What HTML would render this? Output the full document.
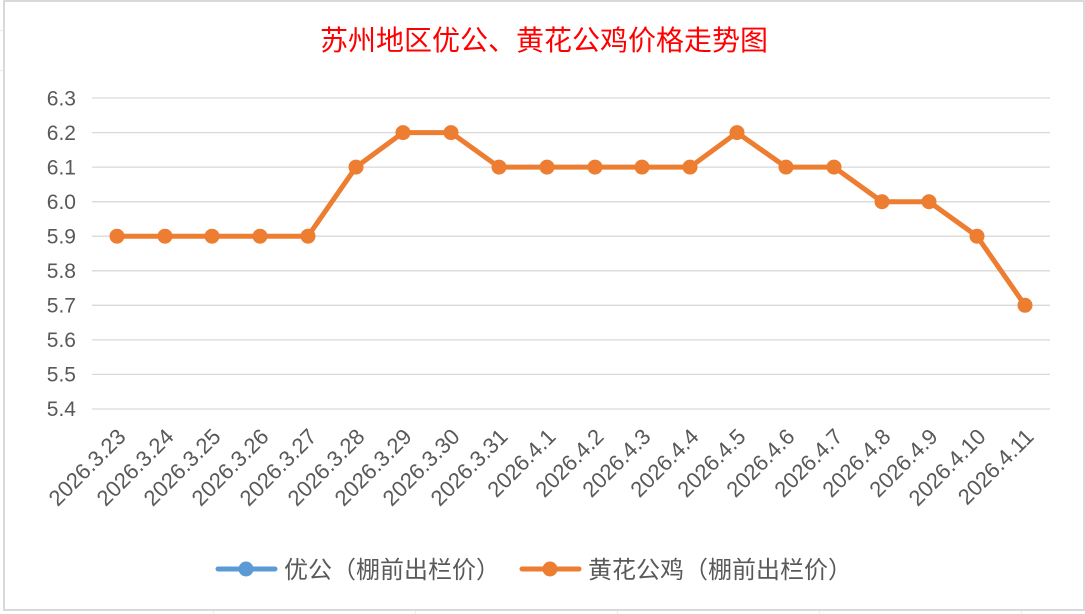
<!DOCTYPE html>
<html><head><meta charset="utf-8"><style>
html,body{margin:0;padding:0;background:#fff;}
svg{display:block;}
text{font-family:"Liberation Sans","Noto Sans CJK SC",sans-serif;}
</style></head><body>
<svg width="1085" height="614" viewBox="0 0 1085 614" xmlns="http://www.w3.org/2000/svg">
<rect x="0" y="0" width="1085" height="614" fill="#fff"/>
<g stroke="#ececec" stroke-width="1">
<line x1="0" y1="30.5" x2="4" y2="30.5"/><line x1="0" y1="70.5" x2="4" y2="70.5"/>
<line x1="213.5" y1="610" x2="213.5" y2="614"/><line x1="415.5" y1="610" x2="415.5" y2="614"/>
<line x1="617.5" y1="610" x2="617.5" y2="614"/><line x1="819.5" y1="610" x2="819.5" y2="614"/><line x1="1021.5" y1="610" x2="1021.5" y2="614"/>
</g>
<rect x="4" y="1" width="1080" height="609" fill="#fff" stroke="#d9d9d9" stroke-width="2"/>
<text x="544" y="50" text-anchor="middle" font-size="28" fill="#ff0000" font-family="'Noto Serif CJK SC','Noto Sans CJK SC',serif">苏州地区优公、黄花公鸡价格走势图</text>
<g stroke="#d9d9d9" stroke-width="1.3">
<line x1="92" y1="98" x2="1050" y2="98"/><line x1="92" y1="132.6" x2="1050" y2="132.6"/>
<line x1="92" y1="167.1" x2="1050" y2="167.1"/><line x1="92" y1="201.7" x2="1050" y2="201.7"/>
<line x1="92" y1="236.2" x2="1050" y2="236.2"/><line x1="92" y1="270.8" x2="1050" y2="270.8"/>
<line x1="92" y1="305.3" x2="1050" y2="305.3"/><line x1="92" y1="339.9" x2="1050" y2="339.9"/>
<line x1="92" y1="374.4" x2="1050" y2="374.4"/><line x1="92" y1="409" x2="1050" y2="409"/>
</g>
<g font-size="21" fill="#595959" text-anchor="end">
<text x="76" y="105.5">6.3</text><text x="76" y="140">6.2</text><text x="76" y="174.5">6.1</text>
<text x="76" y="209">6.0</text><text x="76" y="243.5">5.9</text><text x="76" y="278">5.8</text>
<text x="76" y="312.5">5.7</text><text x="76" y="347">5.6</text><text x="76" y="381.5">5.5</text>
<text x="76" y="416">5.4</text>
</g>
<g font-size="22" fill="#595959" text-anchor="end">
<text transform="translate(127,438) rotate(-45)">2026.3.23</text>
<text transform="translate(175,438) rotate(-45)">2026.3.24</text>
<text transform="translate(222,438) rotate(-45)">2026.3.25</text>
<text transform="translate(270,438) rotate(-45)">2026.3.26</text>
<text transform="translate(318,438) rotate(-45)">2026.3.27</text>
<text transform="translate(366,438) rotate(-45)">2026.3.28</text>
<text transform="translate(413,438) rotate(-45)">2026.3.29</text>
<text transform="translate(461,438) rotate(-45)">2026.3.30</text>
<text transform="translate(509,438) rotate(-45)">2026.3.31</text>
<text transform="translate(557,438) rotate(-45)">2026.4.1</text>
<text transform="translate(605,438) rotate(-45)">2026.4.2</text>
<text transform="translate(652,438) rotate(-45)">2026.4.3</text>
<text transform="translate(700,438) rotate(-45)">2026.4.4</text>
<text transform="translate(747,438) rotate(-45)">2026.4.5</text>
<text transform="translate(796,438) rotate(-45)">2026.4.6</text>
<text transform="translate(844,438) rotate(-45)">2026.4.7</text>
<text transform="translate(892,438) rotate(-45)">2026.4.8</text>
<text transform="translate(939,438) rotate(-45)">2026.4.9</text>
<text transform="translate(987,438) rotate(-45)">2026.4.10</text>
<text transform="translate(1035,438) rotate(-45)">2026.4.11</text>
</g>
<polyline fill="none" stroke="#ed7d31" stroke-width="5" stroke-linejoin="round" points="117,236.2 165,236.2 212,236.2 260,236.2 308,236.2 356,167.1 403,132.6 451,132.6 499,167.1 547,167.1 595,167.1 642,167.1 690,167.1 737,132.6 786,167.1 834,167.1 882,201.7 929,201.7 977,236.2 1025,305.3"/>
<g fill="#ed7d31">
<circle cx="117" cy="236.2" r="7.5"/><circle cx="165" cy="236.2" r="7.5"/><circle cx="212" cy="236.2" r="7.5"/><circle cx="260" cy="236.2" r="7.5"/><circle cx="308" cy="236.2" r="7.5"/><circle cx="356" cy="167.1" r="7.5"/><circle cx="403" cy="132.6" r="7.5"/><circle cx="451" cy="132.6" r="7.5"/><circle cx="499" cy="167.1" r="7.5"/><circle cx="547" cy="167.1" r="7.5"/><circle cx="595" cy="167.1" r="7.5"/><circle cx="642" cy="167.1" r="7.5"/><circle cx="690" cy="167.1" r="7.5"/><circle cx="737" cy="132.6" r="7.5"/><circle cx="786" cy="167.1" r="7.5"/><circle cx="834" cy="167.1" r="7.5"/><circle cx="882" cy="201.7" r="7.5"/><circle cx="929" cy="201.7" r="7.5"/><circle cx="977" cy="236.2" r="7.5"/><circle cx="1025" cy="305.3" r="7.5"/>
</g>
<line x1="218" y1="569" x2="275" y2="569" stroke="#5b9bd5" stroke-width="5" stroke-linecap="round"/>
<circle cx="246" cy="569" r="7.5" fill="#5b9bd5"/>
<text x="284" y="578" font-size="24" fill="#595959">优公（棚前出栏价）</text>
<line x1="522" y1="569" x2="579" y2="569" stroke="#ed7d31" stroke-width="5" stroke-linecap="round"/>
<circle cx="550" cy="569" r="7.5" fill="#ed7d31"/>
<text x="588" y="578" font-size="24" fill="#595959">黄花公鸡（棚前出栏价）</text>
</svg>
</body></html>
